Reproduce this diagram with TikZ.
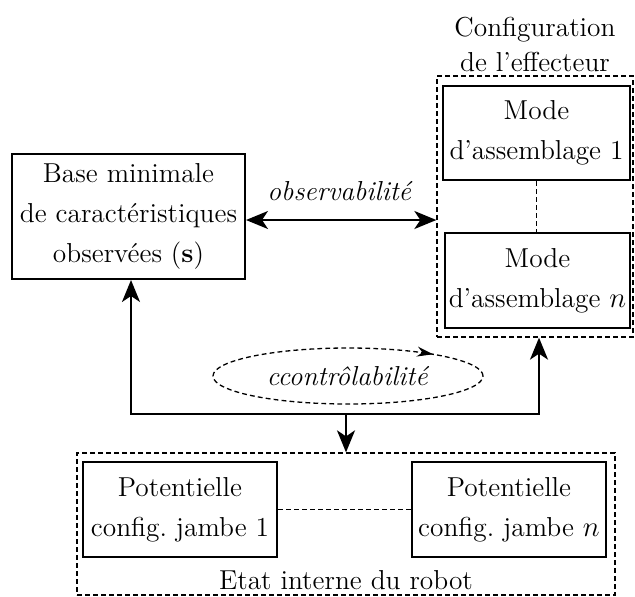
\documentclass[tikz,border=0pt]{standalone}
\usepackage{fontspec}
\usetikzlibrary{arrows.meta,shapes.geometric,decorations.markings}
\frenchspacing
\begin{document}
\begin{tikzpicture}[x=0.5pt,y=-0.5pt,
  every node/.style={font=\fontsize{13.7}{20}\selectfont, align=center, inner sep=0pt},
  box/.style={draw, line width=1pt},
  grp/.style={draw, line width=0.65pt, dash pattern=on 2.4pt off 1.6pt},
  grpline/.style={line width=0.65pt, dash pattern=on 2.4pt off 1.6pt},
  ar/.style={line width=1pt, -{Stealth[length=11pt,width=9pt,inset=3pt]}},
  dar/.style={line width=1pt, {Stealth[length=11pt,width=9pt,inset=3pt]}-{Stealth[length=11pt,width=9pt,inset=3pt]}}
]
\useasboundingbox (0,0) rectangle (635,596);
% left box
\node[box,minimum width=116.5pt,minimum height=62.5pt] (base) at (128.5,216.5)
  {Base minimale\\de caractéristiques\\observées (\textbf{s})};
% effector group
\node[grp,minimum width=98pt,minimum height=130.5pt] (eff) at (535,206.5) {};
\node[box,minimum width=93.5pt,minimum height=47pt] (m1) at (536.5,133) {Mode\\d’assemblage 1};
\node[box,minimum width=92.5pt,minimum height=47.5pt] (mn) at (537.5,280.5) {Mode\\d’assemblage $n$};
\node[font=\fontsize{13.7}{17.5}\selectfont] (efft) at (535,44) {Configuration\\de l’effecteur};
\draw[grpline] (m1.south) -- (m1.south |- mn.north);
% robot group
\node[grp,minimum width=269pt,minimum height=71pt] (rob) at (346,524) {};
\node[box,minimum width=97pt,minimum height=47.5pt] (p1) at (180,509.5) {Potentielle\\config. jambe 1};
\node[box,minimum width=97pt,minimum height=47.5pt] (pn) at (509,509.5) {Potentielle\\config. jambe $n$};
\node (robt) at (346,580) {Etat interne du robot};
\draw[grpline] (p1.east) -- (pn.west);
% observability
\coordinate (oy) at (0,220);
\draw[dar] (base.east |- oy) -- (eff.west |- oy);
\node (obs) at (340,191) {\textit{observabilité}};
% controllability
\node[grp,ellipse,minimum width=135pt,minimum height=28pt,
  postaction={decorate,decoration={markings,mark=at position 0.1 with {\arrowreversed{Stealth[length=8pt,width=5pt]}}}}]
  (ell) at (348,376) {\textit{ccontrôlabilité}};
\coordinate (bl) at (131,414);
\coordinate (br) at (539,414);
\draw[dar] (base.south -| bl) -- (bl) -- (br) -- (eff.south -| br);
\coordinate (bm) at (rob.north |- bl);
\draw[ar] (bm) -- (rob.north);
\end{tikzpicture}
\end{document}
